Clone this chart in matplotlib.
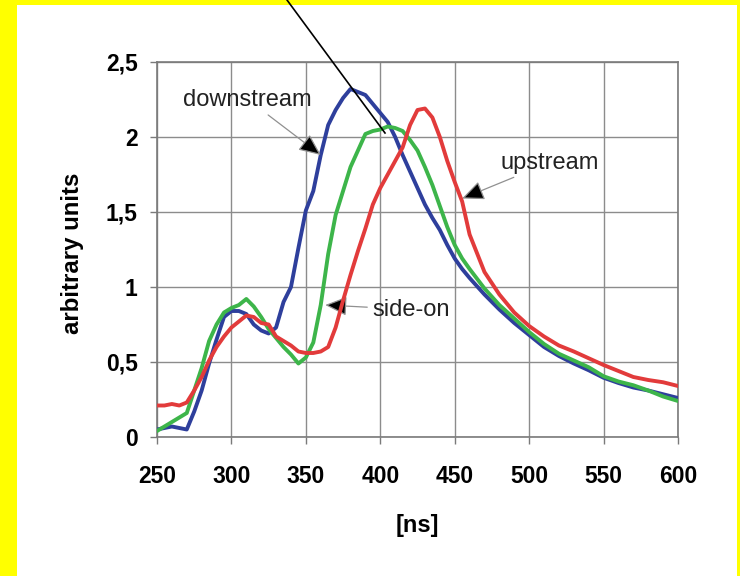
import numpy as np
import matplotlib
matplotlib.use("Agg")
import matplotlib.pyplot as plt
from matplotlib.patches import Rectangle
from matplotlib.lines import Line2D

plt.rcParams['font.family'] = ['Liberation Sans', 'DejaVu Sans']

# tiempo [ns]
tiempo = [250, 255, 260, 265, 270, 275, 280, 285, 290, 295,
          300, 305, 310, 315, 320, 325, 330, 335, 340, 345,
          350, 355, 360, 365, 370, 375, 380, 385, 390, 395,
          400, 405, 410, 415, 420, 425, 430, 435, 440, 445,
          450, 455, 460, 470, 480, 490, 500, 510, 520, 530,
          540, 550, 560, 570, 580, 590, 600]

downstream = [0.05, 0.06, 0.07, 0.06, 0.05, 0.17, 0.31, 0.49, 0.65, 0.80,
              0.84, 0.84, 0.82, 0.75, 0.71, 0.69, 0.73, 0.90, 1.00, 1.26,
              1.51, 1.64, 1.88, 2.08, 2.18, 2.26, 2.32, 2.30, 2.28, 2.22,
              2.16, 2.10, 2.00, 1.88, 1.77, 1.66, 1.55, 1.46, 1.38, 1.28,
              1.19, 1.12, 1.06, 0.95, 0.85, 0.76, 0.68, 0.60, 0.54, 0.49,
              0.445, 0.395, 0.36, 0.33, 0.31, 0.285, 0.26]

side_on = [0.04, 0.07, 0.10, 0.13, 0.16, 0.31, 0.46, 0.64, 0.75, 0.83,
           0.86, 0.88, 0.92, 0.87, 0.80, 0.72, 0.66, 0.60, 0.55, 0.49,
           0.53, 0.63, 0.88, 1.22, 1.48, 1.64, 1.80, 1.91, 2.02, 2.04,
           2.05, 2.07, 2.06, 2.04, 1.98, 1.91, 1.80, 1.68, 1.54, 1.40,
           1.28, 1.19, 1.12, 0.99, 0.88, 0.79, 0.70, 0.62, 0.555, 0.51,
           0.465, 0.405, 0.37, 0.345, 0.31, 0.27, 0.24]

upstream = [0.21, 0.21, 0.22, 0.21, 0.23, 0.31, 0.40, 0.51, 0.60, 0.67,
            0.73, 0.77, 0.81, 0.80, 0.76, 0.75, 0.67, 0.64, 0.61, 0.57,
            0.56, 0.56, 0.57, 0.60, 0.73, 0.91, 1.08, 1.24, 1.39, 1.55,
            1.66, 1.75, 1.84, 1.93, 2.08, 2.18, 2.19, 2.13, 2.00, 1.84,
            1.70, 1.57, 1.35, 1.10, 0.95, 0.83, 0.74, 0.67, 0.61, 0.57,
            0.525, 0.48, 0.44, 0.40, 0.38, 0.365, 0.34]

xticks = [250, 300, 350, 400, 450, 500, 550, 600]
yticks = [0, 0.5, 1, 1.5, 2, 2.5]
yticklabels = ["0", "0,5", "1", "1,5", "2", "2,5"]

fig = plt.figure(figsize=(7.4, 5.76), dpi=100, facecolor='#FFFF00')
fig.patches.append(Rectangle((17 / 740, 0), 720 / 740, 571 / 576,
                             transform=fig.transFigure, facecolor='white',
                             edgecolor='none', zorder=-5))

ax = fig.add_axes([157 / 740, 1 - 437 / 576, 521 / 740, 375 / 576])
ax.set_zorder(2)
ax.set_facecolor('white')

ax.plot(tiempo, downstream, color='#2E3F9C', lw=2.8, zorder=3)
ax.plot(tiempo, side_on, color='#3DB54A', lw=2.8, zorder=4)
ax.plot(tiempo, upstream, color='#E23B3B', lw=2.8, zorder=5)

ax.set_xlim(250, 600)
ax.set_ylim(0, 2.5)
ax.set_xticks(xticks)
ax.set_yticks(yticks)
ax.set_yticklabels(yticklabels)
ax.grid(True, color='#8c8c8c', lw=1.0)
ax.set_axisbelow(True)
for s in ax.spines.values():
    s.set_color('#7a7a7a')
    s.set_linewidth(1.2)
ax.tick_params(axis='both', length=5, color='#7a7a7a', labelsize=16.5, width=1)
ax.tick_params(axis='x', pad=15)
ax.tick_params(axis='y', pad=9)
for lab in ax.get_xticklabels() + ax.get_yticklabels():
    lab.set_fontweight('bold')

ax.set_xlabel('[ns]', fontsize=17, fontweight='bold', labelpad=19)
ax.set_ylabel('arbitrary units', fontsize=17.3, fontweight='bold')
ax.yaxis.set_label_coords(-0.141, 0.489)

flecha = dict(arrowstyle='-|>,head_length=0.9,head_width=0.4', ec='#909090',
              fc='black', lw=0.9, shrinkA=2, shrinkB=0, mutation_scale=15)
ax.annotate('downstream', xy=(360, 1.88), xytext=(311, 2.25), fontsize=17,
            color='#222222', ha='center', va='center', arrowprops=flecha)
ax.annotate('upstream', xy=(455, 1.59), xytext=(514, 1.83), fontsize=17,
            color='#222222', ha='center', va='center', arrowprops=flecha)
ax.annotate('side-on', xy=(363, 0.88), xytext=(421, 0.85), fontsize=17,
            color='#222222', ha='center', va='center', arrowprops=flecha)

fig.lines.append(Line2D([287 / 740, 385 / 740], [1.0, 1 - 133 / 576],
                        transform=fig.transFigure, color='black', lw=1.2,
                        zorder=10))

fig.savefig('out.png', dpi=100, facecolor=fig.get_facecolor())
